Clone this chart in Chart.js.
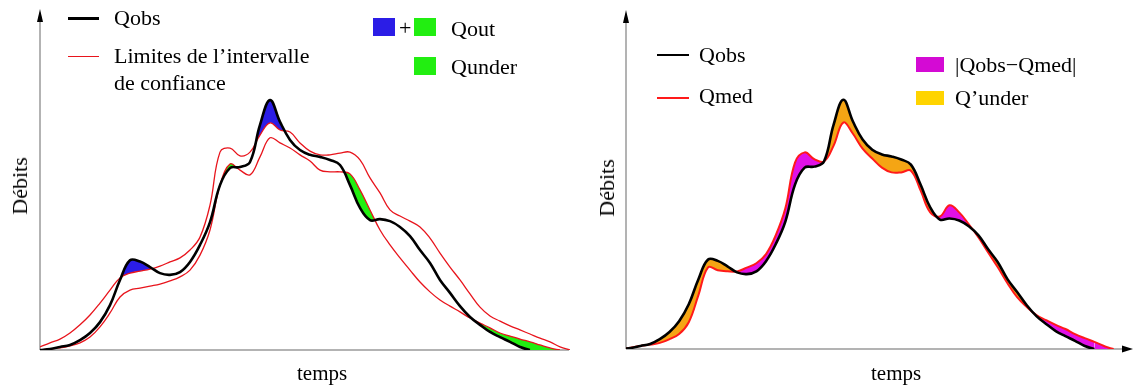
<!DOCTYPE html>
<html>
<head>
<meta charset="utf-8">
<script src="https://cdn.jsdelivr.net/npm/chart.js@4/dist/chart.umd.min.js"></script>
<style>
  body { margin: 0; background: #fff; width: 1136px; height: 387px; position: relative; overflow: hidden;
         font-family: "Liberation Serif", "Times New Roman", serif; }
  canvas { position: absolute; top: 0; }
  .t { position: absolute; font-size: 22px; line-height: 22px; white-space: nowrap; color: #000; }
  .sw { position: absolute; }
  .ln { position: absolute; height: 0; }
  .rot { position: absolute; font-size: 22px; line-height: 22px; white-space: nowrap;
         transform: translate(-50%, -50%) rotate(-90deg); }
</style>
</head>
<body>
<canvas id="gauche" width="570" height="387" style="left:0"></canvas>
<canvas id="droite" width="566" height="387" style="left:570px"></canvas>

<!-- légende gauche -->
<div class="ln" style="left:68px;top:17px;width:31px;border-top:3px solid #000"></div>
<div class="t" style="left:114px;top:7px">Qobs</div>
<div class="ln" style="left:68px;top:56px;width:31px;border-top:1.5px solid #e8141c"></div>
<div class="t" style="left:114px;top:45px">Limites de l’intervalle</div>
<div class="t" style="left:114px;top:72px">de confiance</div>
<div class="sw" style="left:373px;top:18px;width:22px;height:18px;background:#2b1de6"></div>
<div class="t" style="left:399px;top:17px">+</div>
<div class="sw" style="left:414px;top:18px;width:22px;height:18px;background:#22ee11"></div>
<div class="t" style="left:451px;top:18px">Qout</div>
<div class="sw" style="left:414px;top:57px;width:22px;height:18px;background:#22ee11"></div>
<div class="t" style="left:451px;top:56px">Qunder</div>
<div class="rot" style="left:20px;top:186px">Débits</div>
<div class="t" style="left:297px;top:362px;font-size:21px">temps</div>

<!-- légende droite -->
<div class="ln" style="left:657px;top:54px;width:32px;border-top:2.5px solid #000"></div>
<div class="t" style="left:699px;top:44px">Qobs</div>
<div class="ln" style="left:657px;top:97px;width:32px;border-top:2.5px solid #ff1a1a"></div>
<div class="t" style="left:699px;top:85px">Qmed</div>
<div class="sw" style="left:916px;top:57px;width:28px;height:15px;background:#d40ad4"></div>
<div class="t" style="left:955px;top:54px">|Qobs−Qmed|</div>
<div class="sw" style="left:916px;top:91px;width:28px;height:14px;background:#ffd400"></div>
<div class="t" style="left:955px;top:87px">Q’under</div>
<div class="rot" style="left:607px;top:188px">Débits</div>
<div class="t" style="left:871px;top:362px;font-size:21px">temps</div>

<script>
// pas de temps (unités arbitraires)
const temps = [0, 1, 2, 3, 4, 5, 6, 7, 8, 9, 10, 11, 12, 13, 14, 15, 16, 17, 18, 19, 20,
  21, 22, 23, 24, 25, 26, 27, 28, 29, 30, 31, 32, 33, 34, 35, 36, 37, 38, 39, 40,
  41, 42, 43, 44, 45, 46, 47, 48, 49, 50, 51, 52, 53];

// débits observés
const qobs = [0, 0.3, 0.9, 1.5, 2.9, 5.0, 8.2, 13.2, 20.6, 26.4, 26.0, 24.4, 22.6, 22.1, 22.9,
  25.9, 30.9, 37.6, 48.5, 53.5, 53.8, 55.3, 66.2, 73.5, 67.1, 61.8, 58.8, 57.4, 56.8, 55.9,
  54.4, 48.5, 41.8, 38.2, 38.5, 37.9, 36.2, 33.5, 29.4, 25.6, 20.6, 16.8, 12.9, 9.7, 7.4,
  5.3, 3.8, 2.4, 0.9, 0, 0, 0, 0, 0];

// limites de l'intervalle de confiance
const limSup = [0.9, 2.1, 3.2, 5.0, 7.4, 10.3, 13.8, 17.6, 21.2, 22.6, 23.2, 23.8, 24.7, 25.9,
  27.1, 29.4, 33.2, 42.6, 58.2, 59.4, 57.1, 58.2, 63.2, 66.8, 64.7, 64.1, 60.9, 58.5, 57.4,
  57.4, 57.9, 58.2, 55.9, 50.6, 46.2, 41.2, 39.4, 37.9, 36.2, 32.9, 28.5, 24.4, 20.6, 16.5,
  12.6, 10.0, 8.5, 7.1, 5.9, 4.7, 3.5, 2.4, 0.9, 0];
const limInf = [0, 0.3, 0.6, 1.2, 2.1, 3.8, 6.8, 10.9, 15.6, 17.6, 18.2, 18.8, 19.4, 20.3, 21.5,
  23.5, 27.9, 35.3, 48.5, 54.7, 52.9, 51.5, 56.8, 62.4, 60.9, 59.4, 57.4, 55.6, 52.9, 52.4,
  52.4, 51.8, 47.1, 41.2, 35.3, 30.9, 27.1, 23.5, 20.0, 17.1, 14.7, 12.9, 11.2, 9.4, 7.9,
  6.5, 5.0, 4.1, 3.2, 2.4, 1.5, 0.6, 0, 0];

// débit médian
const qmed = [0, 0.4, 0.9, 1.3, 1.8, 2.9, 4.4, 7.9, 15.9, 24.1, 23.2, 22.9, 22.9, 24.0, 25.3,
  28.0, 33.5, 41.5, 55.0, 58.0, 56.0, 55.3, 60.0, 66.8, 63.5, 59.1, 56.2, 53.5, 52.1, 52.1,
  52.6, 46.8, 40.3, 39.1, 42.4, 40.3, 36.8, 32.9, 28.5, 24.1, 19.4, 15.3, 12.4, 10.0, 8.5,
  7.1, 5.9, 4.4, 3.2, 2.1, 0.9, 0, 0, 0];

const pts = arr => temps.map((t, i) => ({ x: t, y: arr[i] }));

// on ne trace pas le trait quand la courbe est posée sur l'axe
const cacherZero = {
  borderColor: c => (c.p0.parsed.y <= 0 && c.p1.parsed.y <= 0) ? 'rgba(0,0,0,0)' : undefined
};

// axes avec flèches
const axes = {
  id: 'axes',
  beforeDatasetsDraw(chart, args, opts) {
    const { ctx, chartArea: a } = chart;
    ctx.save();
    ctx.strokeStyle = '#9a9a9a';
    ctx.lineWidth = 1.5;
    ctx.beginPath();
    ctx.moveTo(a.left, a.bottom); ctx.lineTo(a.left, 20);
    ctx.moveTo(a.left, a.bottom); ctx.lineTo(opts.finX - (opts.flecheX ? 8 : 0), a.bottom);
    ctx.stroke();
    ctx.fillStyle = '#000';
    ctx.beginPath();
    ctx.moveTo(a.left, opts.hautY);
    ctx.lineTo(a.left - 3, opts.hautY + 13);
    ctx.lineTo(a.left + 3, opts.hautY + 13);
    ctx.closePath();
    ctx.fill();
    if (opts.flecheX) {
      ctx.beginPath();
      ctx.moveTo(opts.finX, a.bottom);
      ctx.lineTo(opts.finX - 11, a.bottom - 3.5);
      ctx.lineTo(opts.finX - 11, a.bottom + 3.5);
      ctx.closePath();
      ctx.fill();
    }
    ctx.restore();
  }
};

const baseOptions = (padding, xmin, xmax, axesOpts) => ({
  responsive: false,
  animation: false,
  layout: { padding },
  elements: { point: { radius: 0 }, line: { tension: 0.4 } },
  scales: {
    x: { type: 'linear', min: xmin, max: xmax, display: false },
    y: { min: 0, max: 100, display: false }
  },
  plugins: { legend: { display: false }, tooltip: { enabled: false }, axes: axesOpts }
});

new Chart(document.getElementById('gauche'), {
  type: 'line',
  data: {
    datasets: [
      { label: 'Qobs', data: pts(qobs), borderColor: '#000', borderWidth: 2.6,
        segment: cacherZero, fill: false },
      { label: 'Limite sup', data: pts(limSup), borderColor: '#e8141c', borderWidth: 1.3,
        segment: cacherZero,
        fill: { target: 0, above: 'rgba(0,0,0,0)', below: '#2b1de6' } },
      { label: 'Limite inf', data: pts(limInf), borderColor: '#e8141c', borderWidth: 1.3,
        segment: cacherZero,
        fill: { target: 0, above: '#22ee11', below: 'rgba(0,0,0,0)' } }
    ]
  },
  options: baseOptions({ left: 40, right: 0, top: 10, bottom: 37 }, 0, 53,
    { hautY: 9, finX: 569, flecheX: false }),
  plugins: [axes]
});

new Chart(document.getElementById('droite'), {
  type: 'line',
  data: {
    datasets: [
      { label: 'Qobs', data: pts(qobs), borderColor: '#000', borderWidth: 2.6,
        segment: cacherZero, fill: false },
      { label: 'Qmed', data: pts(qmed), borderColor: '#ff1a1a', borderWidth: 2,
        segment: cacherZero,
        fill: { target: 0, above: '#e010e6', below: '#f5a514' } }
    ]
  },
  options: baseOptions({ left: 56, right: 3, top: 10, bottom: 38 }, 0.5, 53,
    { hautY: 10, finX: 563, flecheX: true }),
  plugins: [axes]
});
</script>
</body>
</html>
